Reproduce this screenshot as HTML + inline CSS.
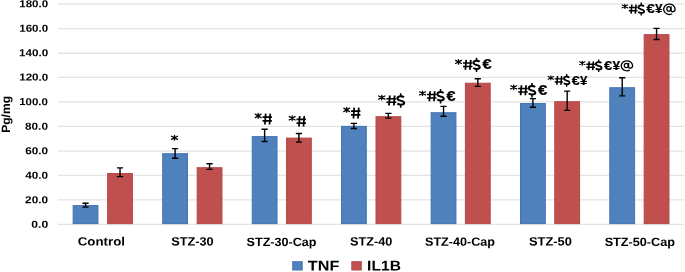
<!DOCTYPE html>
<html><head><meta charset="utf-8"><style>
html,body{margin:0;padding:0;background:#fff;}
body{width:685px;height:272px;position:relative;overflow:hidden;}
svg{position:absolute;left:0;top:0;}
.g path{stroke:#e3e3e3;stroke-width:1.3;fill:none;}
.b{fill:#4f81bd;stroke:#4574b4;stroke-width:1;}
.r{fill:#c0504d;stroke:#b74946;stroke-width:1;}
.e path{stroke:#000;stroke-width:1.4;fill:none;}
.sg{stroke:#000;fill:none;}
.tg{font-family:"Liberation Sans",sans-serif;font-weight:bold;fill:#000;stroke:#000;}
.txt{filter:grayscale(1);}
.txt text{font-family:"Liberation Sans",sans-serif;font-weight:bold;fill:#000;}
</style></head><body>
<svg width="685" height="272" viewBox="0 0 685 272">
<g class="g"><path d="M58 224.44H684"/><path d="M58 199.80H684"/><path d="M58 175.35H684"/><path d="M58 151.10H684"/><path d="M58 126.35H684"/><path d="M58 101.90H684"/><path d="M58 77.30H684"/><path d="M58 53.25H684"/><path d="M58 28.60H684"/><path d="M58 4.05H684"/></g>
<rect class="b" x="73.15" y="205.60" width="24.80" height="18.00"/><rect class="r" x="107.63" y="173.50" width="24.80" height="50.10"/><rect class="b" x="162.69" y="153.70" width="24.80" height="69.90"/><rect class="r" x="197.17" y="167.70" width="24.80" height="55.90"/><rect class="b" x="252.23" y="136.60" width="24.80" height="87.00"/><rect class="r" x="286.51" y="138.10" width="24.80" height="85.50"/><rect class="b" x="341.50" y="126.40" width="24.80" height="97.20"/><rect class="r" x="376.00" y="116.70" width="24.80" height="106.90"/><rect class="b" x="431.14" y="112.70" width="24.80" height="110.90"/><rect class="r" x="465.39" y="83.20" width="24.80" height="140.40"/><rect class="b" x="520.51" y="103.50" width="24.80" height="120.10"/><rect class="r" x="554.76" y="101.70" width="24.80" height="121.90"/><rect class="b" x="609.80" y="87.70" width="24.80" height="135.90"/><rect class="r" x="644.17" y="34.65" width="24.80" height="188.95"/>
<g class="e"><path d="M85.55 203.20V207.10M82.45 203.20H88.65M82.45 207.10H88.65"/><path d="M120.03 167.90V176.60M116.93 167.90H123.13M116.93 176.60H123.13"/><path d="M175.09 148.60V158.30M172.00 148.60H178.19M172.00 158.30H178.19"/><path d="M209.57 163.70V169.40M206.47 163.70H212.67M206.47 169.40H212.67"/><path d="M264.63 129.30V141.50M261.53 129.30H267.74M261.53 141.50H267.74"/><path d="M298.91 133.50V142.10M295.81 133.50H302.01M295.81 142.10H302.01"/><path d="M353.90 123.40V128.50M350.80 123.40H357.00M350.80 128.50H357.00"/><path d="M388.40 113.40V118.10M385.30 113.40H391.50M385.30 118.10H391.50"/><path d="M443.54 106.40V116.30M440.44 106.40H446.64M440.44 116.30H446.64"/><path d="M477.79 78.80V86.40M474.69 78.80H480.89M474.69 86.40H480.89"/><path d="M532.91 98.60V107.30M529.81 98.60H536.01M529.81 107.30H536.01"/><path d="M567.16 91.10V110.40M564.06 91.10H570.26M564.06 110.40H570.26"/><path d="M622.20 77.70V95.90M619.10 77.70H625.30M619.10 95.90H625.30"/><path d="M656.57 28.40V39.50M653.47 28.40H659.67M653.47 39.50H659.67"/></g>
<rect class="b" x="292.7" y="261.7" width="9.5" height="8.3"/><rect class="r" x="351.8" y="261.7" width="9.5" height="8.3"/>
</svg>
<svg class="txt" width="685" height="272" viewBox="0 0 685 272">
<g><g transform="translate(171.00,145.80) scale(0.1000,0.1000)"><g transform="translate(35,0)"><path class="sg" d="M0 -103.5V-56.5M-30.0 -96.0L30.0 -64.0M-30.0 -64.0L30.0 -96.0" stroke-width="13" stroke-linecap="round"/><circle cx="0" cy="-80" r="11" fill="#000"/></g></g><g transform="translate(254.80,124.30) scale(0.0966,0.1050)"><g transform="translate(35,0)"><path class="sg" d="M0 -103.5V-56.5M-30.0 -96.0L30.0 -64.0M-30.0 -64.0L30.0 -96.0" stroke-width="13" stroke-linecap="round"/><circle cx="0" cy="-80" r="11" fill="#000"/></g><g transform="translate(129,0)"><path class="sg" d="M-16 -101L-24 2M31 -101L23 2" stroke-width="18"/><path class="sg" d="M-49 -68H48M-49 -32H48" stroke-width="16.5"/></g></g><g transform="translate(288.80,126.40) scale(0.0966,0.1025)"><g transform="translate(35,0)"><path class="sg" d="M0 -103.5V-56.5M-30.0 -96.0L30.0 -64.0M-30.0 -64.0L30.0 -96.0" stroke-width="13" stroke-linecap="round"/><circle cx="0" cy="-80" r="11" fill="#000"/></g><g transform="translate(129,0)"><path class="sg" d="M-16 -101L-24 2M31 -101L23 2" stroke-width="18"/><path class="sg" d="M-49 -68H48M-49 -32H48" stroke-width="16.5"/></g></g><g transform="translate(343.30,118.30) scale(0.0966,0.1050)"><g transform="translate(35,0)"><path class="sg" d="M0 -103.5V-56.5M-30.0 -96.0L30.0 -64.0M-30.0 -64.0L30.0 -96.0" stroke-width="13" stroke-linecap="round"/><circle cx="0" cy="-80" r="11" fill="#000"/></g><g transform="translate(129,0)"><path class="sg" d="M-16 -101L-24 2M31 -101L23 2" stroke-width="18"/><path class="sg" d="M-49 -68H48M-49 -32H48" stroke-width="16.5"/></g></g><g transform="translate(378.20,105.30) scale(0.1028,0.0970)"><g transform="translate(35,0)"><path class="sg" d="M0 -103.5V-56.5M-30.0 -96.0L30.0 -64.0M-30.0 -64.0L30.0 -96.0" stroke-width="13" stroke-linecap="round"/><circle cx="0" cy="-80" r="11" fill="#000"/></g><g transform="translate(129,0)"><path class="sg" d="M-16 -101L-24 2M31 -101L23 2" stroke-width="18"/><path class="sg" d="M-49 -68H48M-49 -32H48" stroke-width="16.5"/></g><g transform="translate(219,0)"><path class="sg" d="M31 -82C24 -90 12 -93 0 -93C-19 -93 -31 -85 -31 -71C-31 -56 -15 -52 0 -48C18 -44 33 -38 33 -24C33 -10 19 -7 0 -7C-13 -7 -25 -10 -33 -18" stroke-width="20.5"/><path class="sg" d="M0 -93V-124M0 -7V24" stroke-width="16"/></g></g><g transform="translate(419.10,101.10) scale(0.0978,0.0970)"><g transform="translate(35,0)"><path class="sg" d="M0 -103.5V-56.5M-30.0 -96.0L30.0 -64.0M-30.0 -64.0L30.0 -96.0" stroke-width="13" stroke-linecap="round"/><circle cx="0" cy="-80" r="11" fill="#000"/></g><g transform="translate(129,0)"><path class="sg" d="M-16 -101L-24 2M31 -101L23 2" stroke-width="18"/><path class="sg" d="M-49 -68H48M-49 -32H48" stroke-width="16.5"/></g><g transform="translate(219,0)"><path class="sg" d="M31 -82C24 -90 12 -93 0 -93C-19 -93 -31 -85 -31 -71C-31 -56 -15 -52 0 -48C18 -44 33 -38 33 -24C33 -10 19 -7 0 -7C-13 -7 -25 -10 -33 -18" stroke-width="20.5"/><path class="sg" d="M0 -93V-124M0 -7V24" stroke-width="16"/></g><g transform="translate(325,0)"><text transform="scale(1.159,1)" x="-39.3" y="-1.2" font-size="144.4" class="tg" stroke-width="2.5">€</text></g></g><g transform="translate(455.10,69.60) scale(0.0978,0.0960)"><g transform="translate(35,0)"><path class="sg" d="M0 -103.5V-56.5M-30.0 -96.0L30.0 -64.0M-30.0 -64.0L30.0 -96.0" stroke-width="13" stroke-linecap="round"/><circle cx="0" cy="-80" r="11" fill="#000"/></g><g transform="translate(129,0)"><path class="sg" d="M-16 -101L-24 2M31 -101L23 2" stroke-width="18"/><path class="sg" d="M-49 -68H48M-49 -32H48" stroke-width="16.5"/></g><g transform="translate(219,0)"><path class="sg" d="M31 -82C24 -90 12 -93 0 -93C-19 -93 -31 -85 -31 -71C-31 -56 -15 -52 0 -48C18 -44 33 -38 33 -24C33 -10 19 -7 0 -7C-13 -7 -25 -10 -33 -18" stroke-width="20.5"/><path class="sg" d="M0 -93V-124M0 -7V24" stroke-width="16"/></g><g transform="translate(325,0)"><text transform="scale(1.159,1)" x="-39.3" y="-1.2" font-size="144.4" class="tg" stroke-width="2.5">€</text></g></g><g transform="translate(510.20,95.10) scale(0.0995,0.0970)"><g transform="translate(35,0)"><path class="sg" d="M0 -103.5V-56.5M-30.0 -96.0L30.0 -64.0M-30.0 -64.0L30.0 -96.0" stroke-width="13" stroke-linecap="round"/><circle cx="0" cy="-80" r="11" fill="#000"/></g><g transform="translate(129,0)"><path class="sg" d="M-16 -101L-24 2M31 -101L23 2" stroke-width="18"/><path class="sg" d="M-49 -68H48M-49 -32H48" stroke-width="16.5"/></g><g transform="translate(219,0)"><path class="sg" d="M31 -82C24 -90 12 -93 0 -93C-19 -93 -31 -85 -31 -71C-31 -56 -15 -52 0 -48C18 -44 33 -38 33 -24C33 -10 19 -7 0 -7C-13 -7 -25 -10 -33 -18" stroke-width="20.5"/><path class="sg" d="M0 -93V-124M0 -7V24" stroke-width="16"/></g><g transform="translate(325,0)"><text transform="scale(1.159,1)" x="-39.3" y="-1.2" font-size="144.4" class="tg" stroke-width="2.5">€</text></g></g><g transform="translate(547.80,84.70) scale(0.0861,0.0860)"><g transform="translate(35,0)"><path class="sg" d="M0 -103.5V-56.5M-30.0 -96.0L30.0 -64.0M-30.0 -64.0L30.0 -96.0" stroke-width="13" stroke-linecap="round"/><circle cx="0" cy="-80" r="11" fill="#000"/></g><g transform="translate(129,0)"><path class="sg" d="M-16 -101L-24 2M31 -101L23 2" stroke-width="18"/><path class="sg" d="M-49 -68H48M-49 -32H48" stroke-width="16.5"/></g><g transform="translate(219,0)"><path class="sg" d="M31 -82C24 -90 12 -93 0 -93C-19 -93 -31 -85 -31 -71C-31 -56 -15 -52 0 -48C18 -44 33 -38 33 -24C33 -10 19 -7 0 -7C-13 -7 -25 -10 -33 -18" stroke-width="20.5"/><path class="sg" d="M0 -93V-124M0 -7V24" stroke-width="16"/></g><g transform="translate(325,0)"><text transform="scale(1.159,1)" x="-39.3" y="-1.2" font-size="144.4" class="tg" stroke-width="2.5">€</text></g><g transform="translate(417,0)"><text transform="scale(1.085,1)" x="-39.4" y="-1.0" font-size="142.0" class="tg" stroke-width="2">¥</text></g></g><g transform="translate(579.20,69.90) scale(0.0888,0.0840)"><g transform="translate(35,0)"><path class="sg" d="M0 -103.5V-56.5M-30.0 -96.0L30.0 -64.0M-30.0 -64.0L30.0 -96.0" stroke-width="13" stroke-linecap="round"/><circle cx="0" cy="-80" r="11" fill="#000"/></g><g transform="translate(129,0)"><path class="sg" d="M-16 -101L-24 2M31 -101L23 2" stroke-width="18"/><path class="sg" d="M-49 -68H48M-49 -32H48" stroke-width="16.5"/></g><g transform="translate(219,0)"><path class="sg" d="M31 -82C24 -90 12 -93 0 -93C-19 -93 -31 -85 -31 -71C-31 -56 -15 -52 0 -48C18 -44 33 -38 33 -24C33 -10 19 -7 0 -7C-13 -7 -25 -10 -33 -18" stroke-width="20.5"/><path class="sg" d="M0 -93V-124M0 -7V24" stroke-width="16"/></g><g transform="translate(325,0)"><text transform="scale(1.159,1)" x="-39.3" y="-1.2" font-size="144.4" class="tg" stroke-width="2.5">€</text></g><g transform="translate(417,0)"><text transform="scale(1.085,1)" x="-39.4" y="-1.0" font-size="142.0" class="tg" stroke-width="2">¥</text></g><g transform="translate(537,0)"><path class="sg" d="M19 -82V-34C19 -22 27 -19 37 -20C53 -22 64.5 -33 64.5 -48A64.5 59 0 1 0 32.25 3.1" stroke-width="15"/><ellipse class="sg" cx="-7" cy="-52" rx="22" ry="25" stroke-width="14"/></g></g><g transform="translate(621.80,13.50) scale(0.0886,0.0880)"><g transform="translate(35,0)"><path class="sg" d="M0 -103.5V-56.5M-30.0 -96.0L30.0 -64.0M-30.0 -64.0L30.0 -96.0" stroke-width="13" stroke-linecap="round"/><circle cx="0" cy="-80" r="11" fill="#000"/></g><g transform="translate(129,0)"><path class="sg" d="M-16 -101L-24 2M31 -101L23 2" stroke-width="18"/><path class="sg" d="M-49 -68H48M-49 -32H48" stroke-width="16.5"/></g><g transform="translate(219,0)"><path class="sg" d="M31 -82C24 -90 12 -93 0 -93C-19 -93 -31 -85 -31 -71C-31 -56 -15 -52 0 -48C18 -44 33 -38 33 -24C33 -10 19 -7 0 -7C-13 -7 -25 -10 -33 -18" stroke-width="20.5"/><path class="sg" d="M0 -93V-124M0 -7V24" stroke-width="16"/></g><g transform="translate(325,0)"><text transform="scale(1.159,1)" x="-39.3" y="-1.2" font-size="144.4" class="tg" stroke-width="2.5">€</text></g><g transform="translate(417,0)"><text transform="scale(1.085,1)" x="-39.4" y="-1.0" font-size="142.0" class="tg" stroke-width="2">¥</text></g><g transform="translate(537,0)"><path class="sg" d="M19 -82V-34C19 -22 27 -19 37 -20C53 -22 64.5 -33 64.5 -48A64.5 59 0 1 0 32.25 3.1" stroke-width="15"/><ellipse class="sg" cx="-7" cy="-52" rx="22" ry="25" stroke-width="14"/></g></g></g>
<text transform="translate(31.34,227.65) rotate(0.05) scale(1.1831,1)" font-size="10.2">0.0</text>
<text transform="translate(25.09,203.22) rotate(0.05) scale(1.1535,1)" font-size="10.2">20.0</text>
<text transform="translate(25.27,178.73) rotate(0.05) scale(1.1498,1)" font-size="10.2">40.0</text>
<text transform="translate(25.13,154.22) rotate(0.05) scale(1.1518,1)" font-size="10.2">60.0</text>
<text transform="translate(25.04,129.67) rotate(0.05) scale(1.1541,1)" font-size="10.2">80.0</text>
<text transform="translate(19.23,105.12) rotate(0.05) scale(1.1229,1)" font-size="10.2">100.0</text>
<text transform="translate(19.19,80.61) rotate(0.05) scale(1.1359,1)" font-size="10.2">120.0</text>
<text transform="translate(19.08,56.31) rotate(0.05) scale(1.1437,1)" font-size="10.2">140.0</text>
<text transform="translate(19.28,31.66) rotate(0.05) scale(1.1325,1)" font-size="10.2">160.0</text>
<text transform="translate(19.24,7.24) rotate(0.05) scale(1.1301,1)" font-size="10.2">180.0</text>
<text transform="translate(10.09,132.86) rotate(-89.95) scale(1.0071,1)" font-size="12">Pg/mg</text>
<text transform="translate(77.69,245.43) rotate(0.05) scale(1.1088,1)" font-size="12">Control</text>
<text transform="translate(171.21,245.44) rotate(0.05) scale(1.0625,1)" font-size="12">STZ-30</text>
<text transform="translate(246.59,245.94) rotate(0.05) scale(1.0483,1)" font-size="12">STZ-30-Cap</text>
<text transform="translate(350.08,245.45) rotate(0.05) scale(1.0580,1)" font-size="12">STZ-40</text>
<text transform="translate(425.03,245.78) rotate(0.05) scale(1.0504,1)" font-size="12">STZ-40-Cap</text>
<text transform="translate(528.96,245.48) rotate(0.05) scale(1.0726,1)" font-size="12">STZ-50</text>
<text transform="translate(604.63,245.93) rotate(0.05) scale(1.0575,1)" font-size="12">STZ-50-Cap</text>
<text transform="translate(307.78,270.42) rotate(0.05) scale(1.1498,1)" font-size="14.1">TNF</text>
<text transform="translate(367.12,270.42) rotate(0.05) scale(1.1062,1)" font-size="14.1">IL1B</text>
</svg>
</body></html>
